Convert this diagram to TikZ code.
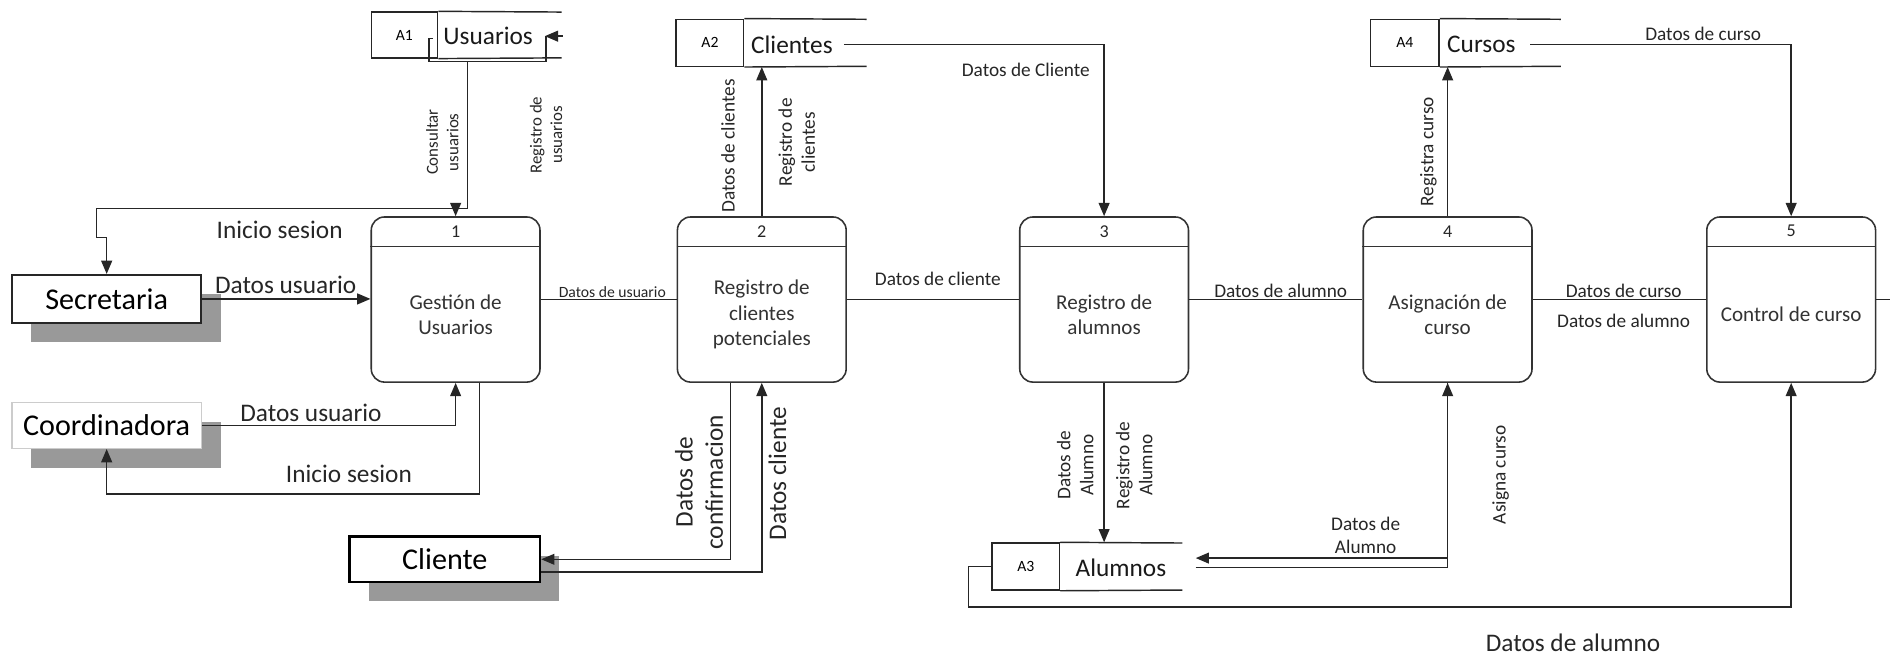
\documentclass[tikz,border=0pt]{standalone}
\usepackage{fontspec}
\setmainfont{Carlito}
\usetikzlibrary{arrows.meta}
\begin{document}
\begin{tikzpicture}[x=1pt,y=-1pt,
  line/.style={line width=1.2pt, draw=black!85},
  flow/.style={line, -{Triangle[length=11pt,width=9pt]}},
  ext/.style={draw=black!85, line width=1.4pt, fill=white, minimum width=157pt,
    minimum height=40pt, inner sep=0pt, font=\fontsize{25}{30}\selectfont},
  shade/.style={fill=black!40},
  proc/.style={draw=black!80, line width=1.3pt, rounded corners=11pt, fill=white,
    minimum width=140pt, minimum height=137pt, inner sep=0pt},
  pnum/.style={font=\fontsize{15}{18}\selectfont, text=black!85},
  ptext/.style={font=\fontsize{17.5}{21}\selectfont, align=center, text=black!80},
  idbox/.style={draw=black!85, line width=1.2pt, inner sep=0pt, minimum height=39pt,
    font=\fontsize{13}{15}\selectfont},
  sname/.style={font=\fontsize{21}{25}\selectfont, inner sep=0pt, text=black!90},
  lbig/.style={font=\fontsize{21}{25}\selectfont, align=center, text=black!85, inner sep=0pt},
  lsmall/.style={font=\fontsize{16}{19}\selectfont, align=center, text=black!85, inner sep=0pt},
  lmini/.style={font=\fontsize{14}{17}\selectfont, align=center, text=black!85, inner sep=0pt},
]
\useasboundingbox (0,0) rectangle (1568,544);

% ---------- external entities (shadow first, then box) ----------
\fill[shade] (26,244) rectangle (183,284);
\fill[shade] (26,350) rectangle (183,388);
\fill[shade] (306,461) rectangle (464,499);
\node[ext] (sec) at (88.5,248) {Secretaria};
\node[ext, draw=black!20, line width=1pt, minimum height=38pt] (coo) at (88.5,353) {Coordinadora};
\node[ext, draw=black, line width=2pt, minimum width=158pt, minimum height=38pt] (cli) at (369,464) {Cliente};

% ---------- processes ----------
\foreach \n/\x/\t in {1/378/{Gestión de\\Usuarios},
                      2/632/{Registro de\\clientes\\potenciales},
                      3/916/{Registro de\\alumnos},
                      4/1201/{Asignación de\\curso},
                      5/1486/{Control de curso}} {
  \node[proc] (p\n) at (\x,248.5) {};
  \draw[line, draw=black!80, line width=1.3pt] ([yshift=-25pt]p\n.north west) -- ([yshift=-25pt]p\n.north east);
  \node[pnum] at ([yshift=-12.5pt]p\n.north) {\n};
  \node[ptext] at ([yshift=-12.5pt]p\n.center) {\t};
}

% ---------- data stores ----------
\node[idbox, minimum width=55pt, minimum height=38pt] (a1id) at (335.5,29) {A1};
\draw[line] (a1id.north east) -- (466,10);
\draw[line] (a1id.south east) -- (466,48);
\node[sname] (a1) at (405,30) {Usuarios};

\node[idbox, minimum width=56pt] (a2id) at (589,35.5) {A2};
\draw[line] (a2id.north east) -- (719,16);
\draw[line] (a2id.south east) -- (719,55);
\node[sname] (a2) at (657,37) {Clientes};

\node[idbox, minimum width=56pt] (a3id) at (851,470) {A3};
\draw[line] (a3id.north east) -- (981,450.5);
\draw[line] (a3id.south east) -- (981,489.5);
\node[sname] (a3) at (930,471) {Alumnos};

\node[idbox, minimum width=57pt] (a4id) at (1165.5,35.5) {A4};
\draw[line] (a4id.north east) -- (1295,16);
\draw[line] (a4id.south east) -- (1295,55);
\node[sname] (a4) at (1229,37) {Cursos};

% ---------- flows around process 1 ----------
\coordinate (a1b) at (388,51);
\coordinate (j1) at (388,173);
\draw[line] (359,32) -- (356,32) -- (356,51) -- (453,51) -- (453,30);
\draw[flow] (467,30) -- (452,30);
\draw[flow] (a1b) -- (j1) -- (378,173) -- (p1.north);
\draw[flow] (j1) -- (80,173) -- (80,197) -- (88.5,197) -- (sec.north);
\draw[flow] (sec.east) -- (sec.east -| p1.west);
\draw[flow] (coo.east) -| (p1.south);
\draw[flow] ([xshift=20pt]p1.south) -- ++(0,92) -| (coo.south);

% ---------- flows between processes ----------
\draw[line] (p1.east) -- (p2.west);
\draw[line] (p2.east) -- (p3.west);
\draw[line] (p3.east) -- (p4.west);
\draw[line] (p4.east) -- (p5.west);
\coordinate (edge) at (1568,248.5);
\draw[line] (p5.east) -- (edge);

% ---------- flows to and from the stores ----------
\draw[flow] (p2.north) -- (p2.north |- a2id.south);
\draw[flow] ([xshift=9pt]a2.east) -| (p3.north);
\draw[flow] (p4.north) -- (p4.north |- a4id.south);
\draw[flow] ([xshift=12pt]a4.east) -| (p5.north);
\draw[flow] (p3.south) -- (p3.south |- a3id.north);
\coordinate (a3in) at (992,463);
\coordinate (a3out) at (992,471);
\draw[flow] (p4.south) |- (a3in);
\draw[flow] (a3out) -| (p4.south);
\draw[flow] (a3id.west) -- ++(-19,0) -- ++(0,33.5) -| (p5.south);

% ---------- client flows ----------
\draw[flow] ([xshift=-26pt]p2.south) |- (cli.east);
\draw[flow] ([yshift=-10.5pt]cli.east) -| (p2.south);

% ---------- labels ----------
\node[lbig] at (232,191) {Inicio sesion};
\node[lbig] at (237,236) {Datos usuario};
\node[lbig] at (258,342.5) {Datos usuario};
\node[lbig] at (289.5,393) {Inicio sesion};
\node[lbig] at (1305,533.5) {Datos de alumno};
\node[lbig, rotate=90] at (580,400) {Datos de\\confirmacion};
\node[lbig, rotate=90] at (645,393) {Datos cliente};

\node[font=\fontsize{13}{15}\selectfont, text=black!85, inner sep=0pt, anchor=base] at (508,247) {Datos de usuario};
\node[lsmall] at (778,231) {Datos de cliente};
\node[lsmall] at (1062.5,241) {Datos de alumno};
\node[lsmall] at (1347,241) {Datos de curso};
\node[lsmall] at (1347,266) {Datos de alumno};
\node[lsmall] at (851,58) {Datos de Cliente};
\node[lsmall] at (1413,28) {Datos de curso};
\node[lsmall, rotate=90] at (1185,126) {Registra curso};
\node[lsmall, rotate=90] at (604,121) {Datos de clientes};
\node[lsmall, rotate=90] at (661,118) {Registro de\\clientes};
\node[lmini, rotate=90] at (367,118) {Consultar\\usuarios};
\node[lmini, rotate=90] at (453,112) {Registro de\\usuarios};
\node[lsmall, rotate=90] at (892,386) {Datos de\\Alumno};
\node[lsmall, rotate=90] at (941,386) {Registro de\\Alumno};
\node[lsmall] at (1133,444) {Datos de\\Alumno};
\node[lsmall, rotate=90] at (1245,394) {Asigna curso};
\end{tikzpicture}
\end{document}
